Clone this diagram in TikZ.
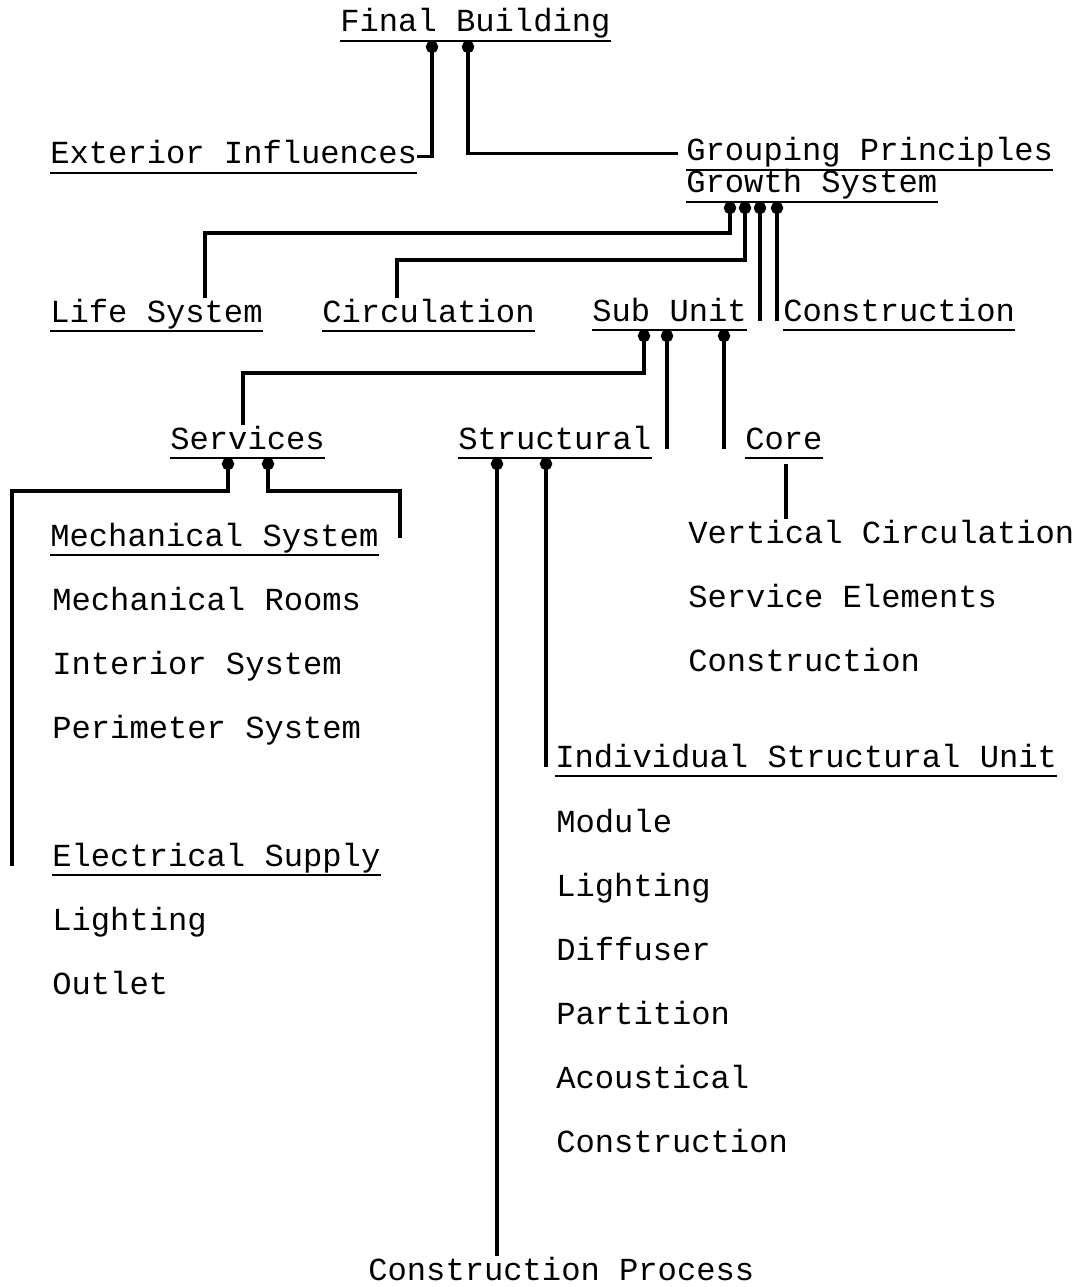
\documentclass[tikz,border=0pt]{standalone}
\usepackage{fontspec}
\newfontfamily\typefont{Liberation Mono}
\usepackage{tikz}
\usetikzlibrary{arrows.meta}

\begin{document}
\begin{tikzpicture}[
    x=0.02cm, y=-0.02cm,
    lbl/.style={anchor=base west, inner sep=0pt, text height=13.6pt, text depth=4.8pt, font=\typefont\fontsize{18.3}{22}\selectfont},
    uline/.style={line width=1.2pt},
    link/.style={{Circle[length=7pt, width=7pt]}-, line width=2pt},
    plain/.style={line width=2pt}
]
    \useasboundingbox (0,0) rectangle (1075,1287);

    \node[lbl] (fb) at (340,32) {Final Building};
    \node[lbl] (ext) at (50,164) {Exterior Influences};
    \node[lbl] (gp) at (686,161) {Grouping Principles};
    \node[lbl] (gs) at (686,193) {Growth System};

    \node[lbl] (life) at (50,322) {Life System};
    \node[lbl] (circ) at (322,322) {Circulation};
    \node[lbl] (sub) at (592,321) {Sub Unit};
    \node[lbl] (cons) at (783,321) {Construction};

    \node[lbl] (serv) at (170,449) {Services};
    \node[lbl] (struc) at (458,449) {Structural};
    \node[lbl] (core) at (745,449) {Core};

    % services column
    \node[lbl] (mech) at (50,546) {Mechanical System};
    \node[lbl] (mrooms) at (52,610) {Mechanical Rooms};
    \node[lbl] (inter) at (52,674) {Interior System};
    \node[lbl] (perim) at (52,738) {Perimeter System};
    \node[lbl] (elec) at (52,866) {Electrical Supply};
    \node[lbl] (light) at (52,930) {Lighting};
    \node[lbl] (outlet) at (52,994) {Outlet};

    % core column
    \node[lbl] (vcirc) at (688,543) {Vertical Circulation};
    \node[lbl] (selem) at (688,607) {Service Elements};
    \node[lbl] (ccons) at (688,671) {Construction};

    % structural column
    \node[lbl] (isu) at (555,767) {Individual Structural Unit};
    \node[lbl] (module) at (556,832) {Module};
    \node[lbl] (slight) at (556,896) {Lighting};
    \node[lbl] (diff) at (556,960) {Diffuser};
    \node[lbl] (part) at (556,1024) {Partition};
    \node[lbl] (acou) at (556,1088) {Acoustical};
    \node[lbl] (scons) at (556,1152) {Construction};
    \node[lbl] (cproc) at (368,1280) {Construction Process};

    \foreach \n in {fb,ext,gp,gs,life,circ,sub,cons,serv,struc,core,mech,elec,isu}
        \draw[uline] (\n.south west) -- (\n.south east);

    \draw[link] (432,0 |- fb.south) |- (ext.east);
    \draw[link] (468,0 |- fb.south) |- ([xshift=-0.16cm]gp.west);

    \draw[link] (730,0 |- gs.south) -- (730,233) -| (205,0 |- life.north);
    \draw[link] (745,0 |- gs.south) -- (745,260) -| (397,0 |- circ.north);
    \draw[link] (760,0 |- gs.south) -- (760,0 |- sub.base);
    \draw[link] (777,0 |- gs.south) -- (777,0 |- cons.base);

    \draw[link] (644,0 |- sub.south) -- (644,373) -| (243,0 |- serv.north);
    \draw[link] (667,0 |- sub.south) -- (667,0 |- struc.base);
    \draw[link] (724,0 |- sub.south) -- (724,0 |- core.base);

    \draw[link] (228,0 |- serv.south) -- (228,491) -| (12,0 |- elec.base);
    \draw[link] (268,0 |- serv.south) -- (268,491) -| (400,0 |- mech.east);

    \draw[link] (497,0 |- struc.south) -- (497,0 |- cproc.north);
    \draw[link] (546,0 |- struc.south) -- (546,0 |- isu.base);

    \draw[plain, shorten <=3.4pt] (786,0 |- core.south) -- (786,0 |- vcirc.north);
\end{tikzpicture}
\end{document}
